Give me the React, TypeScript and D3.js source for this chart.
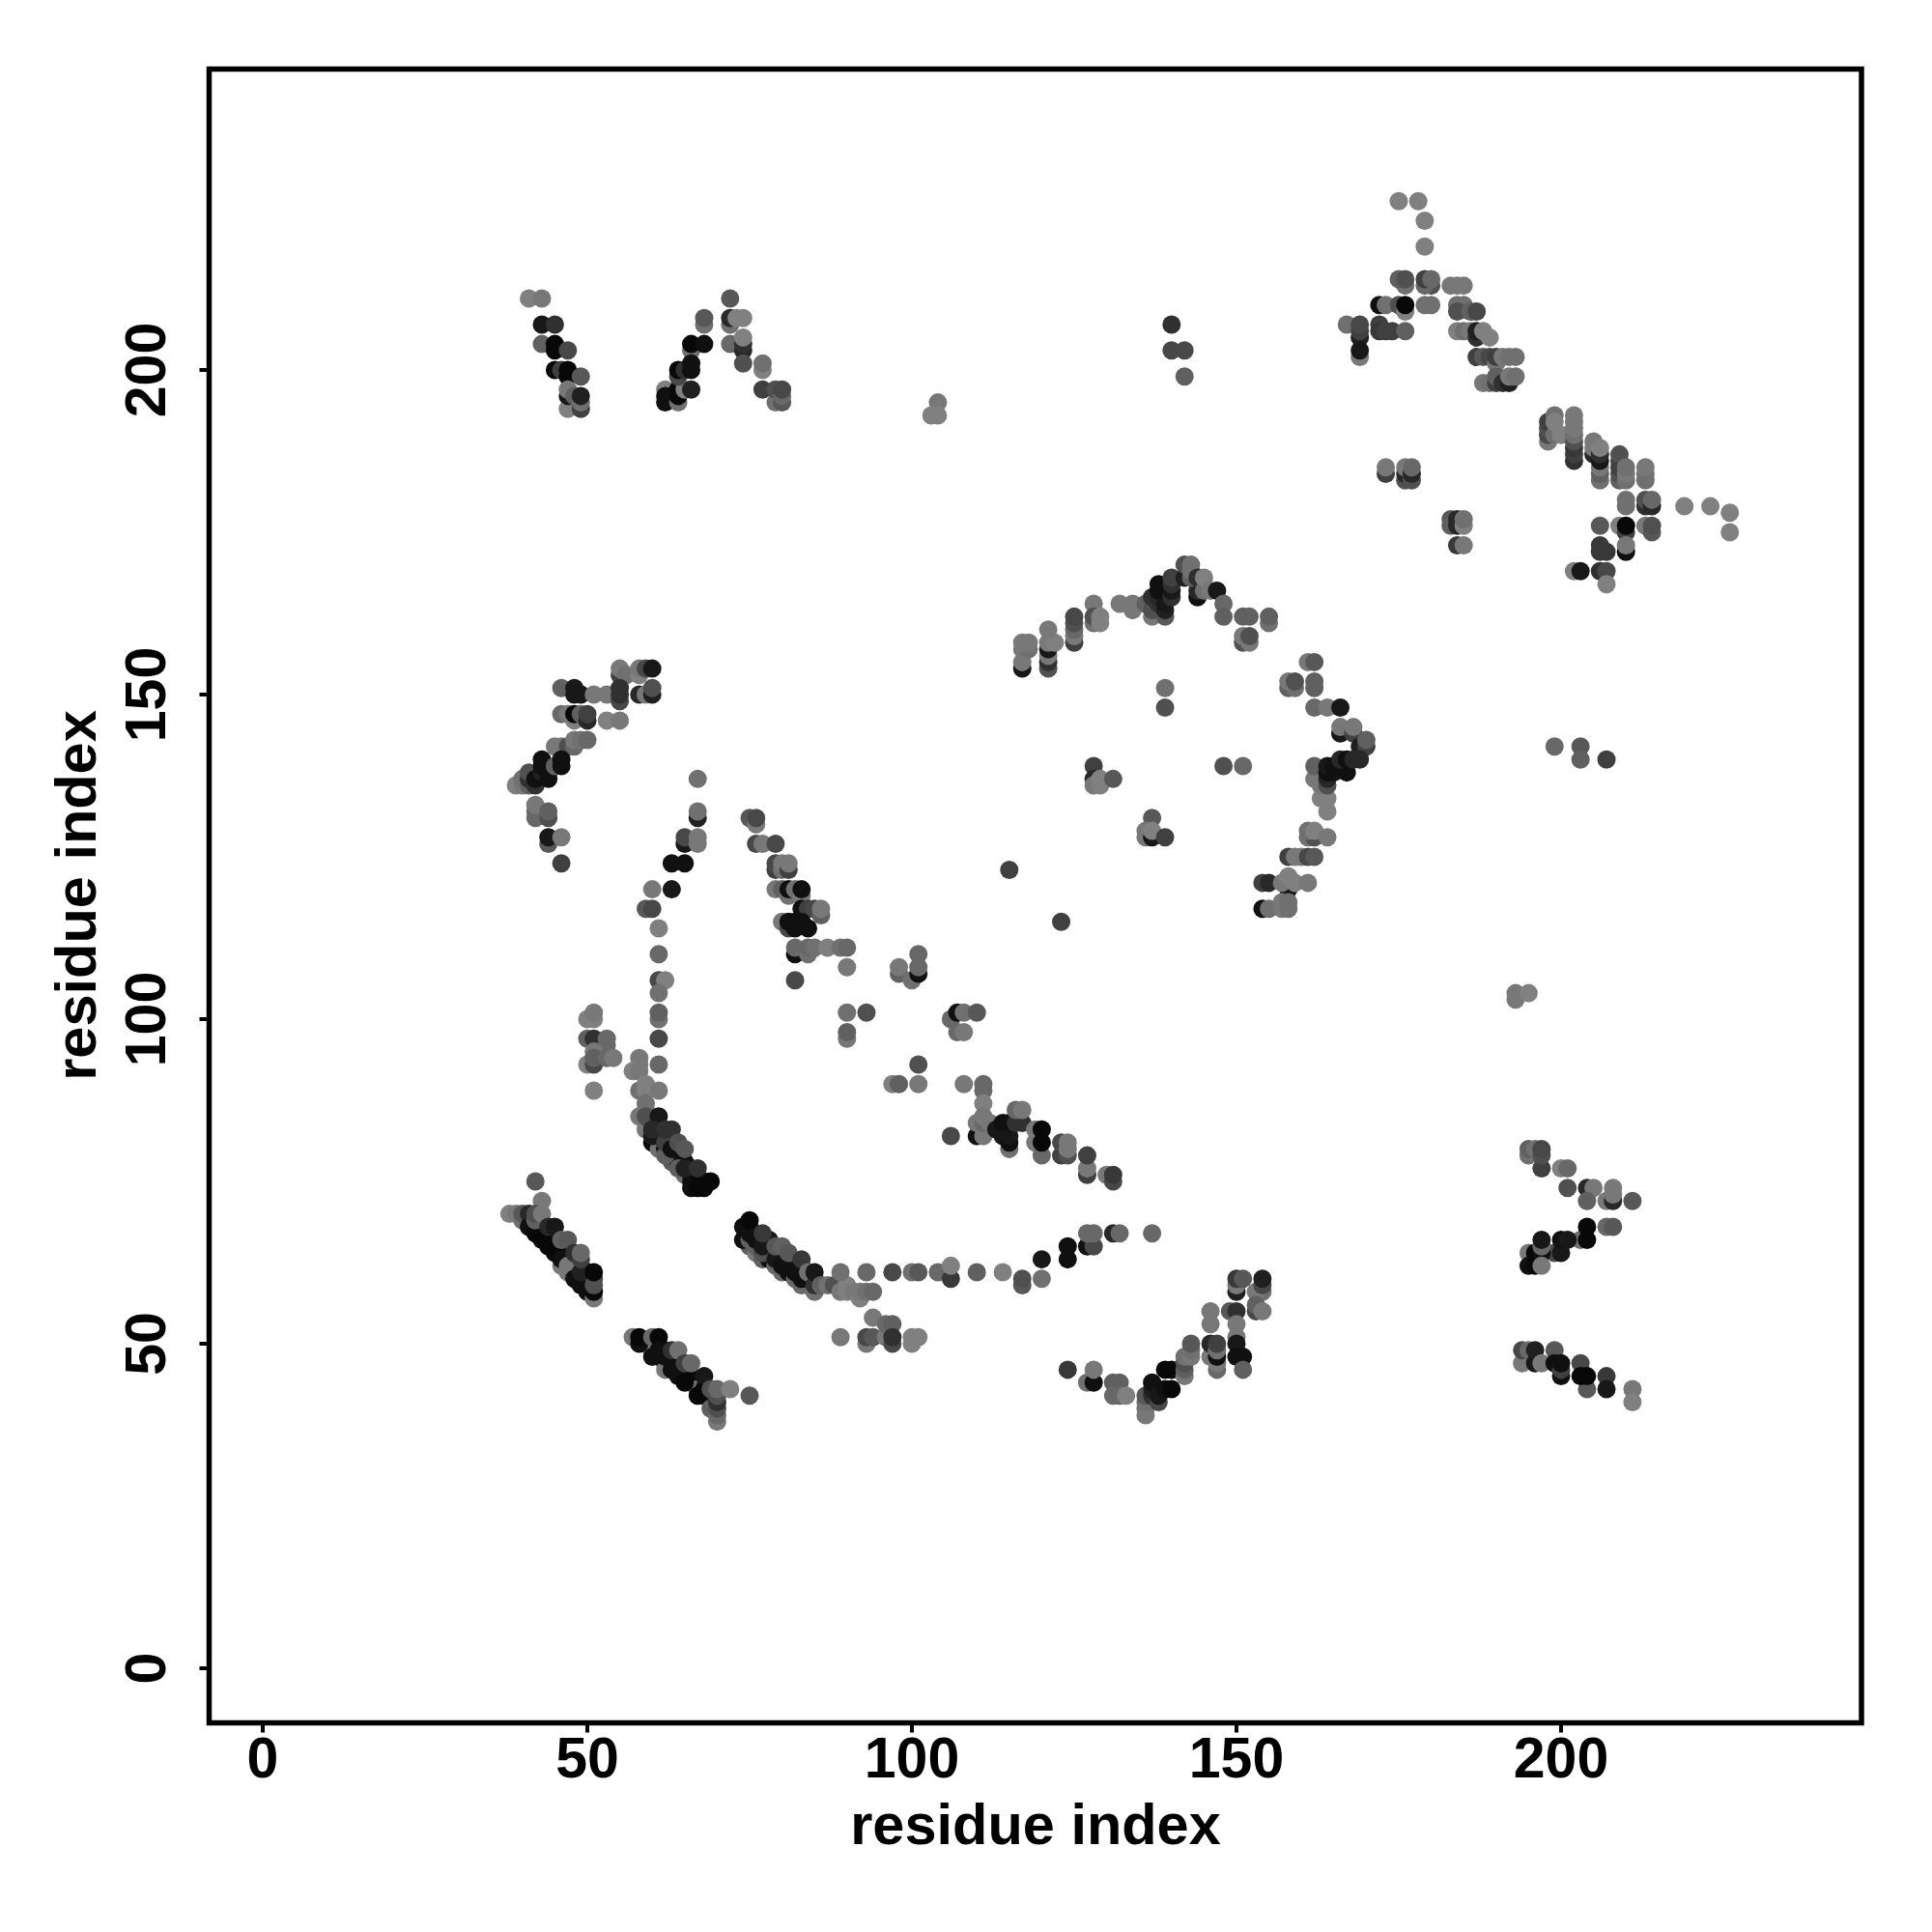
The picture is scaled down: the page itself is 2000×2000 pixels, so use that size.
import React from "react";
import * as d3 from "d3";

// each contact: [residue x, residue y, grey level]
const denseBands = [[43,67,0x78],[44,66,0x48],[45,65,0x78],[44,67,0x10],[45,66,0x10],[46,65,0x08],[47,64,0x08],[48,63,0x08],[46,62,0x78],[47,61,0x78],[49,62,0x08],[48,61,0x10],[49,60,0x08],[50,60,0x08],[50,61,0x10],[49,59,0x10],[51,60,0x48],[59,50,0x08],[60,50,0x10],[60,49,0x78],[61,48,0x78],[62,49,0x08],[62,47,0x08],[63,48,0x08],[62,46,0x78],[64,47,0x08],[64,46,0x08],[65,46,0x08],[65,45,0x70],[66,45,0x08],[66,44,0x08],[67,44,0x08],[67,43,0x70],[68,43,0x08],[68,42,0x18],[69,42,0x18],[60,84,0x18],[60,81,0x08],[61,80,0x70],[61,82,0x08],[61,83,0x18],[62,80,0x08],[63,79,0x10],[63,81,0x18],[63,78,0x58],[64,78,0x10],[64,79,0x10],[65,76,0x70],[65,78,0x10],[66,75,0x10],[66,77,0x10],[66,76,0x10],[67,75,0x08],[68,75,0x08],[75,65,0x60],[76,64,0x78],[77,63,0x60],[78,66,0x18],[78,65,0x10],[78,64,0x10],[78,63,0x10],[79,64,0x10],[80,64,0x10],[80,63,0x10],[80,61,0x68],[81,63,0x10],[81,62,0x10],[81,61,0x10],[82,62,0x18],[82,60,0x68],[83,62,0x20],[83,61,0x10],[84,60,0x10],[84,59,0x20],[85,60,0x20]];
const topLeftA = [[41,211,0x80],[43,211,0x78],[43,207,0x18],[45,207,0x30],[43,204,0x60],[45,204,0x08],[45,203,0x08],[47,203,0x48],[45,200,0x08],[46,200,0x40],[47,200,0x08],[47,199,0x08],[49,199,0x58],[47,194,0x80],[49,194,0x40],[47,196,0x18],[47,197,0x78],[48,196,0x60],[49,195,0x70],[49,196,0x20]];
const topLeftB = [[62,197,0x80],[62,195,0x10],[62,196,0x10],[63,196,0x10],[64,195,0x70],[64,196,0x08],[64,197,0x08],[65,197,0x80],[66,197,0x20],[64,199,0x48],[64,200,0x08],[65,200,0x30],[66,203,0x70],[66,201,0x10],[66,200,0x10],[66,204,0x08],[68,204,0x10],[68,207,0x70],[68,208,0x58],[72,211,0x58],[72,207,0x70],[72,208,0x28],[73,208,0x80],[74,208,0x80],[72,204,0x68],[74,203,0x28],[74,204,0x30],[74,205,0x80],[74,201,0x50],[77,200,0x80],[77,201,0x70],[77,197,0x40],[79,195,0x70],[79,197,0x50],[80,195,0x58],[80,196,0x68],[80,197,0x48]];
const midTop = [[104,195,0x78],[104,193,0x80],[103,193,0x80],[140,207,0x30],[140,203,0x48],[142,203,0x48],[142,199,0x60]];
const topRightA = [[175,226,0x80],[178,226,0x80],[179,223,0x80],[179,219,0x80],[176,213,0x70],[175,214,0x60],[176,214,0x50],[180,213,0x50],[179,213,0x68],[179,214,0x40],[180,214,0x68],[183,213,0x78],[184,213,0x78],[185,213,0x78],[172,210,0x10],[173,210,0x70],[175,210,0x50],[176,209,0x80],[176,210,0x08],[179,210,0x70],[180,210,0x70],[184,210,0x70],[185,210,0x70],[184,209,0x50],[186,209,0x60],[187,209,0x48],[167,207,0x70],[169,205,0x20],[169,206,0x40],[169,207,0x48],[172,207,0x40],[172,206,0x38],[173,206,0x40],[174,206,0x40],[176,206,0x60],[169,202,0x78],[169,203,0x18],[184,206,0x80],[185,206,0x70],[186,206,0x78],[187,205,0x30],[187,206,0x20],[188,206,0x80],[189,205,0x80],[187,202,0x40],[188,202,0x58],[189,202,0x48],[190,201,0x78],[190,202,0x40],[191,202,0x78],[192,202,0x70],[193,202,0x70],[188,198,0x78],[189,198,0x70],[190,198,0x40],[190,199,0x60],[191,198,0x30],[192,198,0x20],[192,199,0x78],[193,199,0x70]];
const topRightB = [[198,189,0x78],[198,190,0x48],[198,191,0x50],[198,192,0x40],[199,190,0x70],[200,190,0x80],[199,193,0x70],[199,192,0x80],[202,186,0x30],[202,187,0x40],[202,188,0x38],[202,189,0x50],[202,190,0x70],[202,191,0x78],[202,192,0x78],[202,193,0x78],[205,187,0x28],[205,188,0x78],[205,189,0x78],[206,183,0x70],[206,184,0x60],[206,185,0x78],[206,186,0x18],[206,187,0x30],[206,188,0x80],[209,183,0x60],[209,184,0x50],[209,185,0x40],[209,186,0x40],[209,187,0x50],[210,183,0x70],[210,184,0x78],[210,185,0x70],[213,183,0x70],[213,184,0x70],[213,185,0x78],[210,179,0x70],[210,180,0x70],[213,179,0x30],[213,180,0x50],[214,179,0x28],[214,180,0x68],[219,179,0x80],[223,179,0x80],[226,178,0x80],[226,175,0x80],[206,176,0x58],[209,176,0x80],[210,175,0x40],[210,176,0x08],[213,176,0x78],[214,175,0x58],[214,176,0x50],[206,173,0x38],[206,172,0x38],[207,172,0x38],[210,172,0x10],[210,173,0x78],[202,169,0x80],[203,169,0x18],[206,169,0x30],[207,169,0x48],[207,167,0x80]];
const smallRight = [[173,184,0x40],[173,185,0x78],[176,183,0x50],[176,184,0x28],[176,185,0x78],[177,183,0x50],[177,184,0x28],[177,185,0x68],[183,177,0x58],[183,176,0x60],[184,177,0x28],[184,176,0x28],[185,176,0x80],[185,177,0x70],[184,173,0x38],[185,173,0x78]];
const arcTop = [[117,154,0x18],[117,155,0x78],[117,157,0x78],[118,157,0x70],[117,158,0x78],[118,158,0x78],[121,154,0x50],[121,155,0x30],[121,156,0x78],[121,157,0x18],[121,158,0x78],[122,158,0x80],[121,160,0x78],[125,158,0x40],[125,159,0x78],[125,160,0x68],[125,161,0x50],[125,162,0x48],[128,164,0x78],[128,161,0x70],[128,162,0x50],[129,161,0x80],[129,162,0x80],[132,164,0x78],[134,163,0x78],[134,164,0x78],[137,162,0x78],[139,162,0x58],[136,164,0x60],[137,163,0x50],[137,165,0x30],[138,164,0x30],[138,165,0x28],[139,163,0x20],[139,164,0x18],[138,166,0x10],[138,167,0x10],[140,165,0x30],[140,166,0x18],[140,167,0x30],[140,168,0x40],[142,168,0x20],[142,170,0x50],[144,165,0x10],[144,166,0x28],[143,168,0x60],[143,169,0x70],[143,170,0x70],[144,168,0x30],[145,166,0x70],[145,168,0x80],[146,166,0x78],[147,166,0x18],[148,164,0x68],[148,162,0x60],[151,162,0x60],[152,162,0x60],[155,161,0x70],[155,162,0x60],[151,158,0x50],[151,159,0x78],[152,158,0x78],[152,159,0x50]];
const arcRight = [[161,155,0x78],[162,155,0x58],[158,151,0x60],[159,151,0x70],[158,152,0x78],[159,152,0x50],[162,151,0x60],[162,152,0x60],[162,148,0x68],[164,148,0x78],[166,148,0x18],[166,144,0x18],[166,145,0x78],[168,144,0x40],[168,145,0x78],[169,142,0x20],[170,142,0x40],[170,143,0x60],[164,132,0x80],[163,134,0x80],[164,134,0x80],[163,136,0x78],[162,137,0x78],[162,139,0x60],[164,136,0x50],[164,137,0x28],[165,138,0x18],[164,138,0x10],[164,139,0x18],[165,139,0x10],[166,139,0x10],[167,138,0x10],[166,140,0x28],[167,140,0x10],[168,140,0x28],[169,140,0x28],[161,128,0x70],[162,128,0x50],[161,129,0x70],[162,129,0x80],[164,128,0x78],[158,125,0x40],[159,125,0x78],[160,125,0x78],[161,125,0x48],[162,125,0x58],[154,121,0x40],[155,121,0x28],[158,120,0x18],[157,121,0x78],[158,122,0x80],[159,121,0x80],[161,121,0x78],[154,117,0x10],[155,117,0x70],[157,117,0x78],[157,118,0x78],[158,117,0x70],[158,118,0x70]];
const arcInner = [[139,151,0x70],[139,148,0x50],[128,139,0x40],[128,137,0x28],[128,136,0x78],[129,136,0x80],[129,137,0x80],[131,137,0x58],[148,139,0x50],[151,139,0x68],[137,131,0x58],[136,128,0x78],[136,129,0x78],[137,128,0x18],[137,129,0x80],[139,128,0x40],[115,123,0x40],[123,115,0x40],[199,142,0x68],[203,142,0x58],[203,140,0x60],[207,140,0x40],[193,103,0x78],[193,104,0x78],[195,104,0x80]];
const leftBlock = [[55,153,0x40],[55,154,0x78],[56,153,0x70],[58,153,0x80],[58,154,0x78],[59,154,0x48],[60,154,0x18],[46,151,0x60],[48,150,0x18],[48,151,0x18],[49,150,0x18],[51,150,0x78],[53,150,0x78],[55,149,0x48],[55,150,0x30],[55,151,0x30],[58,150,0x28],[59,150,0x78],[60,150,0x20],[60,151,0x50],[48,146,0x80],[46,147,0x68],[47,147,0x78],[48,147,0x08],[49,147,0x60],[50,146,0x28],[50,147,0x40],[53,146,0x80],[55,146,0x78],[45,142,0x78],[46,142,0x78],[47,142,0x50],[48,142,0x68],[48,143,0x78],[49,143,0x70],[50,143,0x68],[39,136,0x80],[40,136,0x78],[40,137,0x70],[41,136,0x60],[41,137,0x30],[41,138,0x50],[42,136,0x30],[42,137,0x10],[43,138,0x20],[43,139,0x10],[43,140,0x10],[44,137,0x10],[44,138,0x10],[45,139,0x60],[46,139,0x10],[46,140,0x10],[42,131,0x68],[42,132,0x68],[42,133,0x78],[44,131,0x50],[44,132,0x60],[44,127,0x58],[44,128,0x18],[46,128,0x78],[46,124,0x40]];
const leftArc = [[67,137,0x70],[67,131,0x20],[67,132,0x70],[65,127,0x18],[65,128,0x48],[67,127,0x78],[67,128,0x78],[63,124,0x10],[65,124,0x10],[60,120,0x78],[63,120,0x18],[59,117,0x58],[60,117,0x48],[61,114,0x80],[61,110,0x68],[61,106,0x48],[62,106,0x80],[61,104,0x70],[61,100,0x70],[61,101,0x60],[61,97,0x48],[61,93,0x68],[50,100,0x80],[51,100,0x80],[51,101,0x78],[50,97,0x60],[51,97,0x30],[53,96,0x68],[53,97,0x68],[51,95,0x78],[50,93,0x80],[51,93,0x48],[51,94,0x60],[53,94,0x68],[54,94,0x78],[51,89,0x80],[58,94,0x78],[58,93,0x78],[57,92,0x80],[58,92,0x78],[58,89,0x70],[59,90,0x80],[59,89,0x80],[61,89,0x78],[59,87,0x70],[59,86,0x70],[58,85,0x78],[59,83,0x78],[59,85,0x50],[61,85,0x18],[60,82,0x18],[60,83,0x28],[62,79,0x60],[62,81,0x40],[62,83,0x30],[63,83,0x30],[63,80,0x10],[64,81,0x50],[65,80,0x58],[64,77,0x60],[65,77,0x20],[66,74,0x10],[67,74,0x08],[68,74,0x08],[67,77,0x30],[69,75,0x08]];
const upperStrip = [[75,131,0x58],[76,130,0x78],[76,131,0x48],[76,127,0x48],[77,127,0x78],[79,127,0x48],[79,123,0x40],[79,124,0x48],[80,123,0x70],[80,124,0x78],[81,123,0x40],[81,124,0x78],[79,120,0x78],[80,120,0x60],[81,119,0x70],[81,120,0x10],[82,120,0x70],[83,119,0x78],[83,120,0x10],[83,117,0x10],[84,117,0x40],[85,117,0x48],[86,116,0x60],[86,117,0x78],[80,115,0x78],[81,114,0x48],[81,115,0x10],[82,114,0x10],[82,115,0x10],[83,115,0x10],[84,114,0x10],[82,110,0x10],[82,111,0x68],[84,110,0x70],[84,111,0x68],[85,111,0x70],[87,111,0x80],[89,111,0x70],[90,111,0x68],[90,108,0x78],[82,106,0x48],[90,101,0x70],[93,101,0x50],[90,97,0x78],[90,98,0x60],[98,107,0x60],[98,108,0x78],[100,106,0x70],[101,107,0x10],[101,108,0x68],[101,110,0x68],[101,93,0x50],[97,90,0x80],[98,90,0x60],[101,90,0x78],[108,90,0x78],[111,89,0x68],[111,90,0x68],[111,87,0x80],[106,100,0x68],[107,101,0x10],[108,101,0x70],[110,101,0x58],[107,98,0x68],[108,98,0x78],[106,82,0x48],[110,82,0x10],[110,84,0x78],[111,82,0x78],[111,84,0x68],[111,85,0x78],[112,84,0x78],[115,80,0x70],[113,83,0x18],[114,82,0x18],[114,83,0x18],[114,84,0x10],[115,81,0x10],[115,82,0x18],[115,84,0x10],[116,84,0x30],[117,84,0x30],[116,86,0x68],[117,86,0x78],[119,81,0x78],[119,83,0x78],[120,79,0x68],[120,81,0x08],[120,83,0x08],[123,79,0x40],[123,81,0x48],[124,79,0x50],[124,80,0x78],[124,81,0x78],[127,76,0x40],[127,77,0x78],[127,79,0x40],[130,76,0x78],[131,75,0x48],[131,76,0x38]];
const lowerLeft = [[42,75,0x58],[43,72,0x78],[38,70,0x80],[39,70,0x78],[40,69,0x70],[40,70,0x58],[41,70,0x28],[41,68,0x10],[42,67,0x08],[43,66,0x08],[44,65,0x08],[45,64,0x08],[46,63,0x10],[47,62,0x78],[42,69,0x60],[42,70,0x50],[43,70,0x78],[44,68,0x28],[45,68,0x18],[46,66,0x60],[47,66,0x58],[48,60,0x10],[49,61,0x20],[48,64,0x30],[49,63,0x40],[49,64,0x68],[50,58,0x10],[51,57,0x78],[51,58,0x08],[51,59,0x50],[51,61,0x08]];
const lowerMid = [[57,51,0x78],[58,50,0x10],[58,51,0x08],[60,48,0x10],[60,51,0x68],[61,51,0x08],[61,49,0x10],[62,48,0x10],[63,46,0x10],[63,49,0x30],[64,45,0x10],[64,49,0x70],[65,44,0x08],[65,47,0x40],[66,47,0x68],[67,42,0x08],[68,45,0x18],[69,40,0x60],[69,43,0x50],[70,38,0x78],[70,39,0x68],[70,40,0x50],[70,41,0x30],[70,42,0x50],[70,43,0x68],[72,43,0x80],[75,42,0x58]];
const lowerStrip = [[74,66,0x10],[74,68,0x10],[75,66,0x60],[75,67,0x10],[75,68,0x10],[75,69,0x08],[76,65,0x60],[76,66,0x10],[77,64,0x50],[77,65,0x18],[77,67,0x38],[79,62,0x68],[79,63,0x18],[79,65,0x58],[80,62,0x10],[80,65,0x60],[81,64,0x58],[82,61,0x10],[83,59,0x68],[83,60,0x10],[83,63,0x38],[84,61,0x70],[85,58,0x70],[85,59,0x30],[85,61,0x18],[86,59,0x60],[87,59,0x70],[88,59,0x50],[89,58,0x78],[90,58,0x80],[90,59,0x80],[91,58,0x78],[92,57,0x80],[92,58,0x78],[93,58,0x70],[94,58,0x68],[89,61,0x70],[93,61,0x68],[97,61,0x48],[100,61,0x70],[101,61,0x58],[104,61,0x68],[106,60,0x38],[106,62,0x80],[110,61,0x60],[114,61,0x80],[117,59,0x58],[117,60,0x50],[120,60,0x70],[120,63,0x18],[124,63,0x10],[124,65,0x10],[127,65,0x10],[128,65,0x48],[127,67,0x68],[128,67,0x68],[131,67,0x28],[132,67,0x68],[137,67,0x68],[89,51,0x78],[93,50,0x78],[93,51,0x48],[94,54,0x78],[94,51,0x58],[96,51,0x78],[96,53,0x68],[97,53,0x60],[97,50,0x48],[97,51,0x30],[100,50,0x80],[100,51,0x80],[101,51,0x80]];
const bottomMid = [[124,46,0x38],[127,44,0x70],[128,44,0x10],[128,46,0x78],[131,44,0x60],[132,44,0x60],[131,42,0x68],[132,42,0x68],[133,42,0x80],[136,39,0x78],[136,40,0x78],[136,41,0x70],[136,42,0x58],[137,42,0x30],[137,43,0x20],[137,44,0x10],[138,41,0x48],[138,42,0x18],[139,43,0x10],[140,43,0x08],[139,46,0x08],[140,46,0x08],[142,45,0x78],[142,46,0x60],[142,47,0x50],[142,48,0x70],[143,48,0x78],[143,49,0x70],[143,50,0x58],[146,48,0x78],[146,50,0x28],[147,46,0x68],[147,47,0x78],[147,48,0x10],[147,49,0x70],[147,50,0x40],[146,53,0x78],[146,55,0x78],[149,55,0x58],[150,55,0x30],[150,53,0x78],[150,51,0x78],[150,50,0x18],[150,48,0x10],[151,48,0x10],[151,46,0x60],[150,58,0x20],[150,59,0x78],[150,60,0x38],[151,60,0x58],[154,58,0x70],[153,58,0x78],[154,59,0x48],[154,60,0x20],[153,55,0x48],[153,56,0x60],[154,55,0x78]];
const rightSide = [[195,79,0x70],[195,80,0x60],[196,80,0x70],[197,77,0x40],[197,79,0x50],[197,80,0x48],[200,77,0x80],[201,77,0x68],[201,74,0x50],[204,74,0x28],[205,74,0x78],[204,72,0x60],[207,72,0x78],[208,72,0x28],[208,73,0x78],[208,74,0x78],[211,72,0x58],[203,66,0x70],[204,66,0x08],[204,68,0x08],[207,68,0x68],[208,68,0x58],[199,64,0x48],[200,64,0x18],[200,66,0x10],[201,66,0x18],[195,64,0x78],[195,62,0x10],[196,62,0x08],[196,64,0x08],[197,64,0x10],[197,65,0x68],[197,66,0x18],[197,62,0x78],[194,47,0x78],[194,49,0x48],[195,49,0x68],[196,47,0x18],[196,49,0x20],[197,47,0x78],[199,49,0x58],[199,47,0x10],[200,45,0x10],[200,46,0x40],[200,47,0x10],[203,47,0x48],[204,43,0x58],[203,45,0x08],[204,45,0x08],[207,45,0x38],[207,43,0x18],[211,43,0x78],[211,41,0x80]];

const contacts = [...denseBands,...topLeftA,...topLeftB,...midTop,...topRightA,...topRightB,...smallRight,...arcTop,...arcRight,...arcInner,...leftBlock,...leftArc,...upperStrip,...lowerLeft,...lowerMid,...lowerStrip,...bottomMid,...rightSide];
const ticks = [0, 50, 100, 150, 200];
const axisTitle = "residue index";
const FONT = "'Liberation Sans', Arial, sans-serif";

export default function App() {
  const x = d3.scaleLinear().domain([0, 200]).range([272, 1616]);
  const y = d3.scaleLinear().domain([0, 200]).range([1727, 383]);
  const box = { l: 216.5, r: 1927, t: 71.5, b: 1783.5 };
  return (
    <svg width={2000} height={2000} style={{ position: "absolute", left: 0, top: 0, background: "#fff" }}>
      {contacts.map(([a, b, g], i) => (
        <circle key={i} cx={x(a)} cy={y(b)} r={9.5} fill={d3.rgb(g, g, g).formatHex()} />
      ))}
      <rect x={box.l} y={box.t} width={box.r - box.l} height={box.b - box.t} fill="none" stroke="#000" strokeWidth={5.5} />
      {ticks.map((t) => (
        <g key={t}>
          <line x1={x(t)} x2={x(t)} y1={box.b} y2={box.b + 10} stroke="#000" strokeWidth={4} />
          <text x={x(t)} y={1840} textAnchor="middle" fontFamily={FONT} fontWeight="bold" fontSize={59}>{t}</text>
          <line x1={box.l - 10} x2={box.l} y1={y(t)} y2={y(t)} stroke="#000" strokeWidth={4} />
          <text transform={`translate(171,${y(t)}) rotate(-90)`} textAnchor="middle" fontFamily={FONT} fontWeight="bold" fontSize={59}>{t}</text>
        </g>
      ))}
      <text x={1072} y={1909} textAnchor="middle" fontFamily={FONT} fontWeight="bold" fontSize={59.5}>{axisTitle}</text>
      <text transform="translate(99,927) rotate(-90)" textAnchor="middle" fontFamily={FONT} fontWeight="bold" fontSize={59.5}>{axisTitle}</text>
    </svg>
  );
}
